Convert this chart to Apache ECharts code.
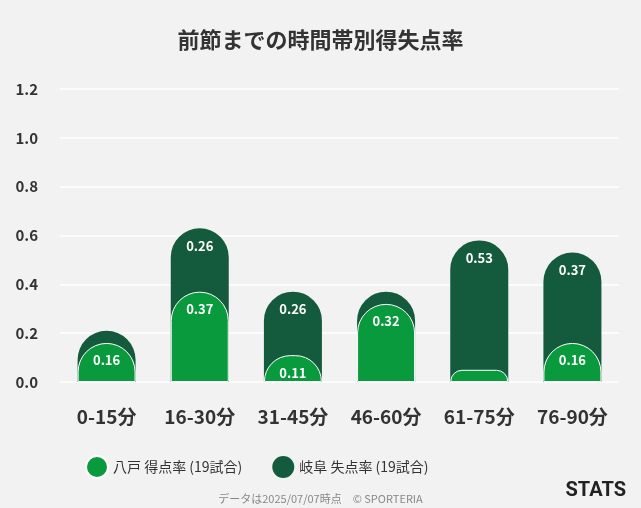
<!DOCTYPE html>
<html><head><meta charset="utf-8">
<script src="https://cdn.jsdelivr.net/npm/echarts@6/dist/echarts.min.js"></script>
<style>body{margin:0;background:#f2f2f2}#main{width:641px;height:508px}</style>
</head><body><div id="main"></div>
<script>
var categories = ['0-15分', '16-30分', '31-45分', '46-60分', '61-75分', '76-90分'];
var hachinoheScored = [0.16, 0.37, 0.11, 0.32, 0.05, 0.16];
var gifuConceded = [0.05, 0.26, 0.26, 0.05, 0.53, 0.37];
var yTicks = [0, 0.2, 0.4, 0.6, 0.8, 1.0, 1.2];

// dark bar is drawn from zero to the sum, light bar sits on top of it
var totals = hachinoheScored.map(function (v, i) { return +(v + gifuConceded[i]).toFixed(2); });

var myChart = echarts.init(document.getElementById('main'));

var option = {
  backgroundColor: '#f2f2f2',
  textStyle: { fontFamily: 'Noto Sans CJK JP' },
  title: [
    { text: '前節までの時間帯別得失点率', left: 'center', top: 24,
      textStyle: { fontSize: 22, fontWeight: 'bold', color: '#333' } },
    { text: 'データは2025/07/07時点　© SPORTERIA', left: 'center', top: 488,
      textStyle: { fontSize: 11, fontWeight: 'normal', color: '#888' } },
    { text: 'STATS', right: 10, top: 476,
      textStyle: { fontSize: 20, fontWeight: 'bold', color: '#222', fontFamily: 'Roboto' } }
  ],
  legend: {
    data: ['八戸 得点率 (19試合)', '岐阜 失点率 (19試合)'],
    left: 80, top: 450, icon: 'circle', itemWidth: 22, itemHeight: 22, itemGap: 30,
    textStyle: { fontSize: 14, color: '#333' }
  },
  grid: { left: 60, right: 22, top: 89, bottom: 126 },
  xAxis: {
    type: 'category', data: categories,
    axisLine: { show: false }, axisTick: { show: false },
    axisLabel: { fontSize: 19, fontWeight: 'bold', color: '#333', margin: 25 }
  },
  yAxis: {
    type: 'value', min: 0, max: 1.2, interval: 0.2,
    axisLabel: { fontSize: 15, fontWeight: 'bold', color: '#333', margin: 22,
      formatter: function (v) { return yTicks.indexOf(v) >= 0 ? v.toFixed(1) : ''; } },
    splitLine: { lineStyle: { color: '#fff', width: 1.5 } }
  },
  series: [
    {
      name: '岐阜 失点率 (19試合)', type: 'bar', barWidth: 58, barGap: '-100%', z: 2,
      data: totals,
      itemStyle: { color: '#145a3c', borderRadius: [29, 29, 0, 0] },
      label: { show: true, position: 'insideTop', distance: 11, color: '#fff', fontWeight: 'bold', fontSize: 13,
        formatter: function (p) { var v = gifuConceded[p.dataIndex]; return v >= 0.1 ? v.toFixed(2) : ''; } }
    },
    {
      name: '八戸 得点率 (19試合)', type: 'bar', barWidth: 58, barGap: '-100%', z: 3,
      data: hachinoheScored,
      itemStyle: { color: '#0a9a3e', borderRadius: [29, 29, 0, 0], borderColor: '#fff', borderWidth: 1 },
      label: { show: true, position: 'insideTop', distance: 11, color: '#fff', fontWeight: 'bold', fontSize: 13,
        formatter: function (p) { return p.value >= 0.1 ? p.value.toFixed(2) : ''; } }
    }
  ]
};
myChart.setOption(option);
</script></body></html>
